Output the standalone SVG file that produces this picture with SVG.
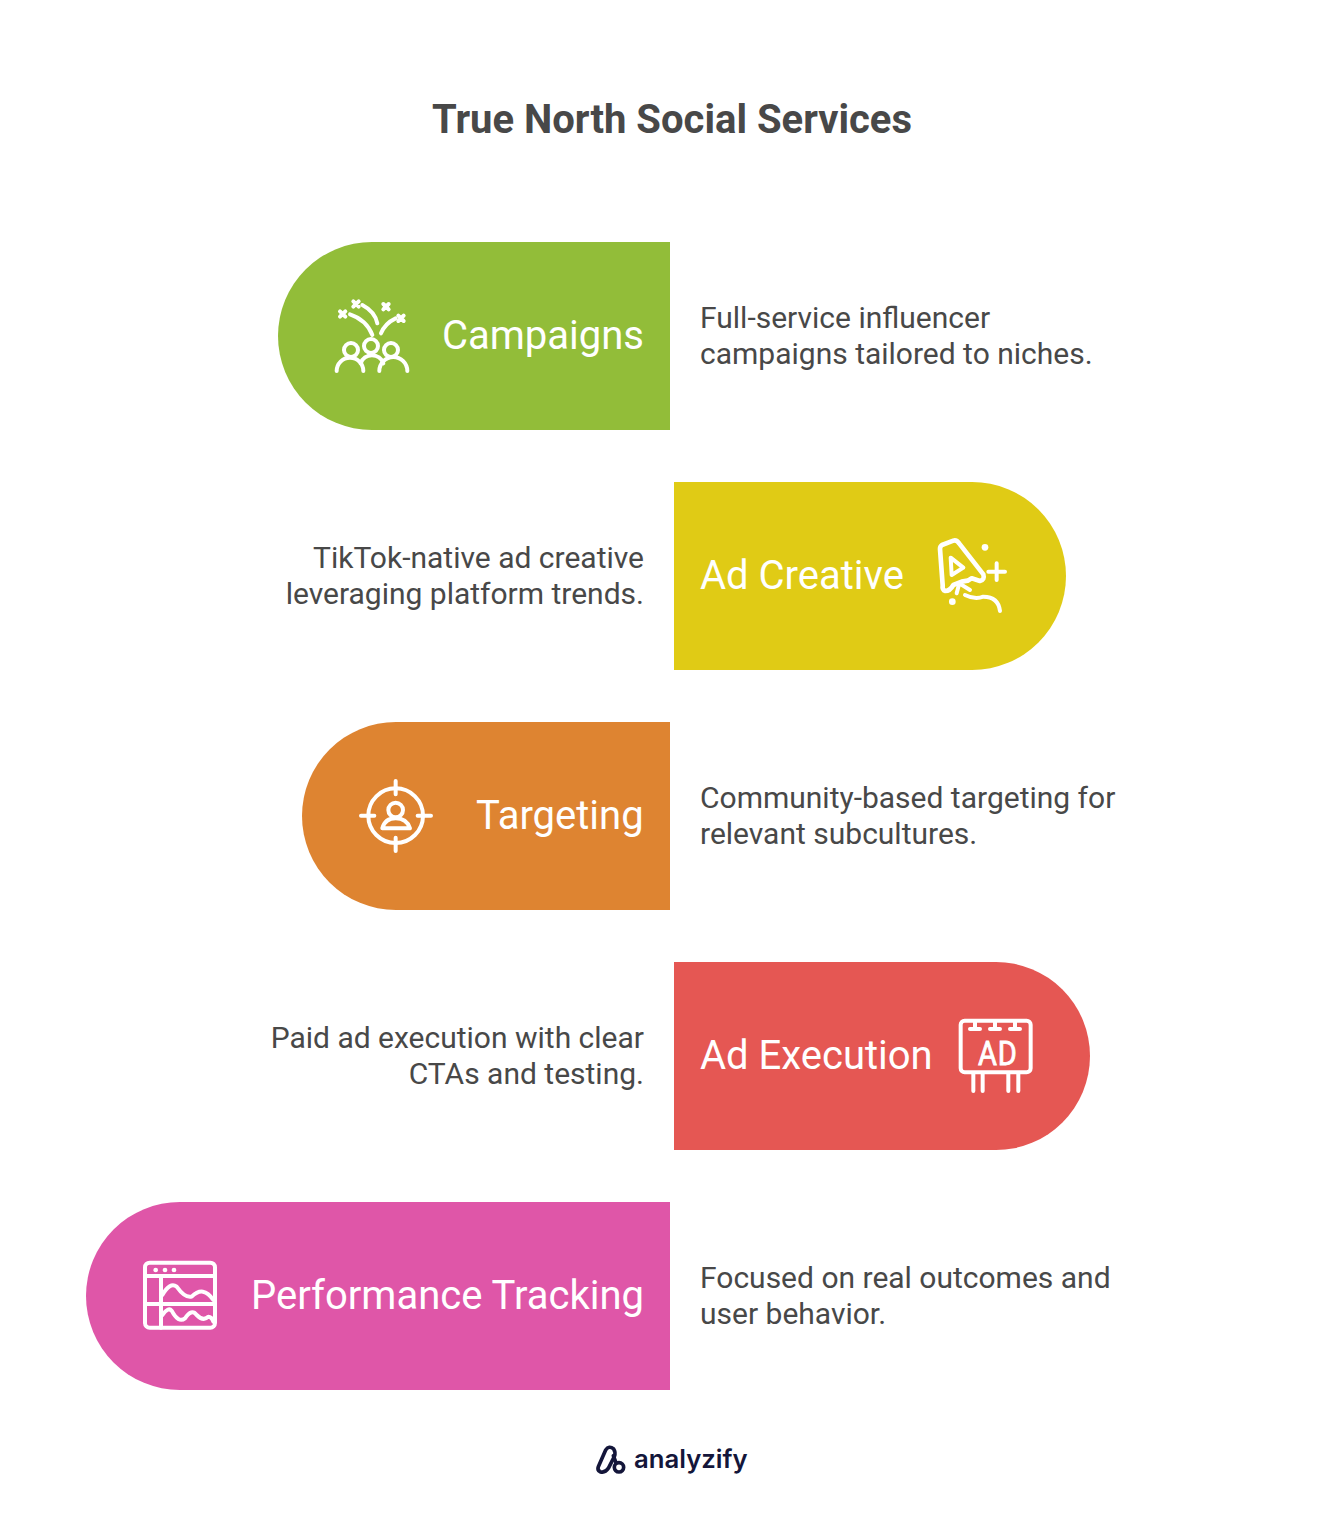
<svg xmlns="http://www.w3.org/2000/svg" width="1344" height="1536" viewBox="0 0 1344 1536">
<style>
text{font-family:Roboto,"Liberation Sans",sans-serif}
.t{font-size:40px;font-weight:700;fill:#484848;text-anchor:middle}
.l{font-size:40px;fill:#fff}
.d{font-size:30px;fill:#484848}
.e{text-anchor:end}
.i{fill:none;stroke:#fff;stroke-width:12;stroke-linecap:round;stroke-linejoin:round}
.f{fill:#fff;stroke:none}
.b{font-family:Inter,sans-serif;font-size:25.700px;font-weight:600;fill:#14163A}
</style>
<rect width="1344" height="1536" fill="#fff"/>
<text class="t" x="672" y="133">True North Social Services</text>
<g id="node-campaigns">
<path d="M670 242H372a94 94 0 0 0 0 188H670Z" fill="#92BD39"/>
<g class="i" transform="translate(320 285) scale(.3333)">
<circle cx="93" cy="195" r="21"/><circle cx="153" cy="183" r="21"/><circle cx="213" cy="195" r="21"/>
<path d="M50 258A40 40 0 0 1 130 258"/><path d="M122 235A36 36 0 0 1 190 235"/><path d="M178 258A42 42 0 0 1 262 258"/>
<path d="M90 88Q140 105 157 150"/><path d="M127 60Q165 80 172 115"/><path d="M183 145Q195 115 227 100"/>
<path d="M60 79l16 16M76 79l-16 16M100 49l16 16M116 49l-16 16M190 57l16 16M206 57l-16 16M235 92l16 16M251 92l-16 16"/>
</g>
<text class="l" x="442" y="349">Campaigns</text>
</g>
<text class="d" x="700" y="328">Full-service influencer</text>
<text class="d" x="700" y="364">campaigns tailored to niches.</text>
<g id="node-ad-creative">
<path d="M674 482H972a94 94 0 0 1 0 188H674Z" fill="#E0CB15"/>
<g class="i" transform="translate(920 525) scale(.3333)">
<path d="M66 60L100 47Q110 44 118 56L190 148Q195 165 180 168L155 160L143 167L125 170L100 180Q90 198 76 198Q66 195 68 180L60 72Q60 64 66 60Z" stroke-width="14"/>
<path d="M92 98L130 128L95 150Z"/>
<path d="M230 115V165M205 140H255"/>
<path d="M118 175L110 205M118 175L150 195"/>
<path d="M135 210Q165 225 190 215Q235 215 240 258"/>
<circle class="f" cx="195" cy="67" r="10"/><circle class="f" cx="97" cy="230" r="10"/>
</g>
<text class="l" x="700" y="589">Ad Creative</text>
</g>
<text class="d e" x="644" y="568">TikTok-native ad creative</text>
<text class="d e" x="644" y="604">leveraging platform trends.</text>
<g id="node-targeting">
<path d="M670 722H396a94 94 0 0 0 0 188H670Z" fill="#DE8431"/>
<g class="i" transform="translate(345 765) scale(.3333)">
<circle cx="152" cy="152" r="82"/>
<path d="M152 48V88M152 218V258M48 152H88M218 152H258"/>
<circle cx="152" cy="135" r="22"/>
<path d="M112 190Q120 160 152 160Q185 160 195 190Z"/>
</g>
<text class="l" x="476" y="829">Targeting</text>
</g>
<text class="d" x="700" y="808">Community-based targeting for</text>
<text class="d" x="700" y="844">relevant subcultures.</text>
<g id="node-ad-execution">
<path d="M674 962H996a94 94 0 0 1 0 188H674Z" fill="#E55753"/>
<g class="i" transform="translate(945 1005) scale(.3333)">
<rect x="47" y="47" width="210" height="155" rx="12"/>
<path d="M90 50V72M75 72H105M150 50V72M135 72H165M210 50V72M195 72H225"/>
<path d="M85 205V258M113 205V258M190 205V258M220 205V258"/>
</g>
<text transform="translate(978 1065) scale(.88 1)" font-size="33" fill="#fff" stroke="#fff" stroke-width=".8" letter-spacing="1">AD</text>
<text class="l" x="700" y="1069">Ad Execution</text>
</g>
<text class="d e" x="644" y="1048">Paid ad execution with clear</text>
<text class="d e" x="644" y="1084">CTAs and testing.</text>
<g id="node-performance-tracking">
<path d="M670 1202H180a94 94 0 0 0 0 188H670Z" fill="#DF56A8"/>
<g class="i" transform="translate(130 1250) scale(.3333)">
<rect x="45" y="38" width="210" height="195" rx="14"/>
<path d="M45 78H255M93 78V233M45 162H255"/>
<path d="M97 135Q120 95 140 110Q165 145 185 140Q220 105 250 150"/>
<path d="M97 195Q115 170 125 182Q145 220 165 205Q185 175 200 195Q220 215 235 200Q245 200 250 215"/>
<circle class="f" cx="77" cy="60" r="7"/><circle class="f" cx="105" cy="60" r="7"/><circle class="f" cx="132" cy="60" r="7"/>
</g>
<text class="l" x="251" y="1309">Performance Tracking</text>
</g>
<text class="d" x="700" y="1288">Focused on real outcomes and</text>
<text class="d" x="700" y="1324">user behavior.</text>
<g id="logo">
<g fill="none" stroke="#14163A" stroke-width="11" stroke-linecap="round" stroke-linejoin="round" transform="translate(585 1435) scale(.3333)">
<path d="M40 95L62 45Q72 30 86 42Q93 52 88 65L70 100Q60 115 45 110Q36 105 40 95Z"/>
<path d="M85 62L93 83"/>
<circle cx="102" cy="97" r="14"/>
</g>
<text class="b" x="634" y="1468">analyzify</text>
</g>
</svg>
